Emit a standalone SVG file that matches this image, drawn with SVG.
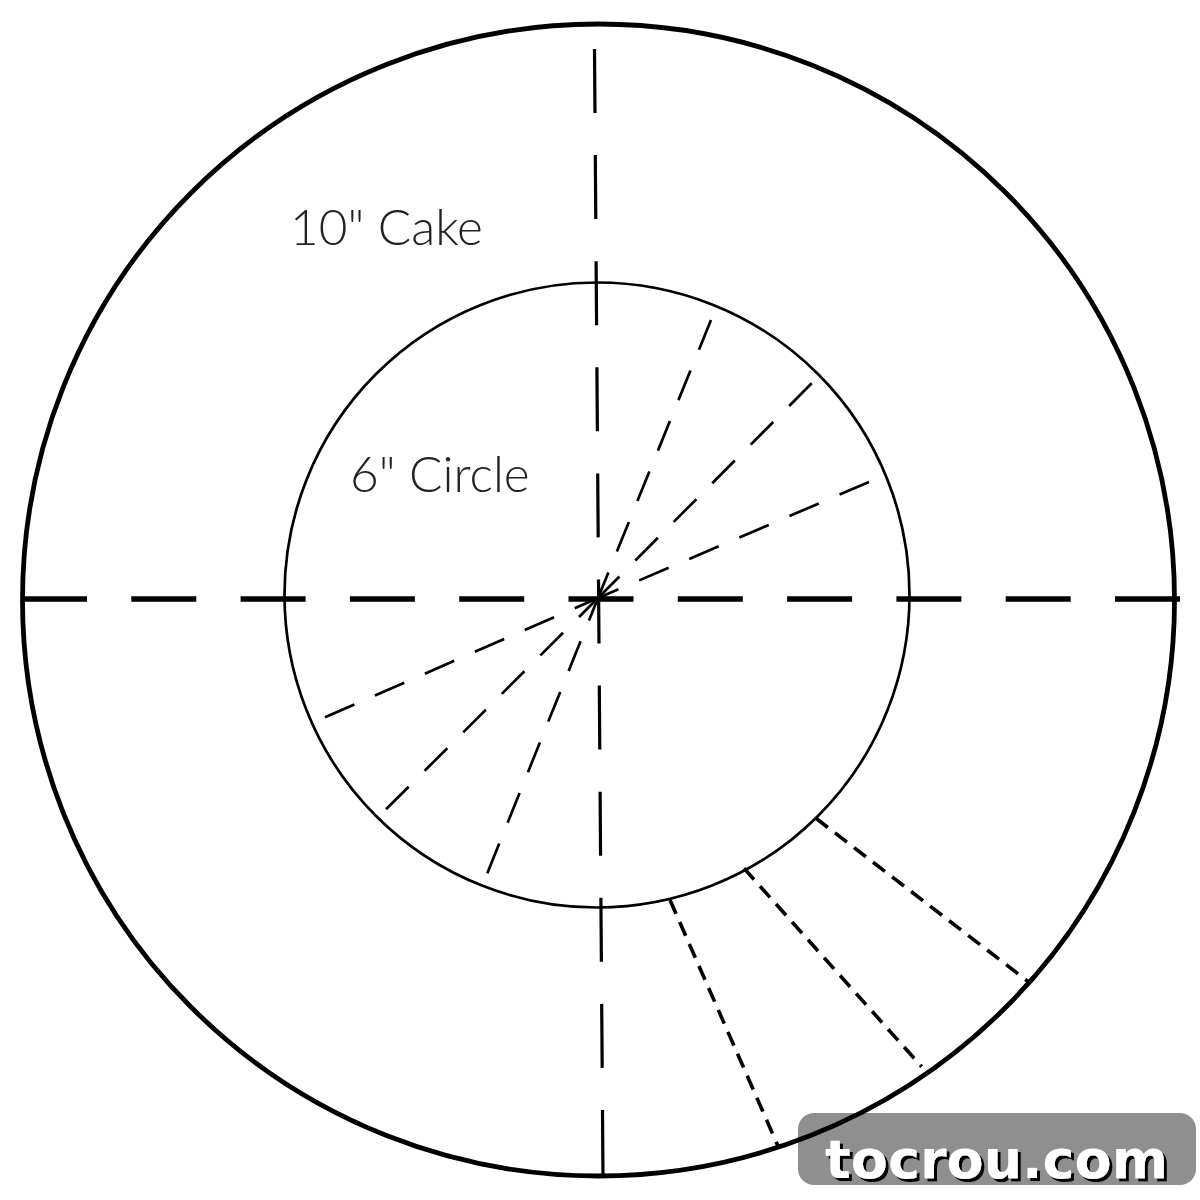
<svg xmlns="http://www.w3.org/2000/svg" width="1200" height="1200" viewBox="0 0 1200 1200">
<defs>
<filter id="shadow" x="-5%" y="-20%" width="110%" height="140%">
<feDropShadow dx="3" dy="3" stdDeviation="0.3" flood-color="#000" flood-opacity="1"/>
</filter>
</defs>
<style>
.ring{fill:none;stroke:#000}
.axis{stroke:#000;fill:none}
.radial{stroke:#000;stroke-width:2.7;stroke-dasharray:32 22.5;fill:none}
.cut{stroke:#000;stroke-width:3.6;stroke-dasharray:15 9;fill:none}
.lbl{font-family:Lato,"Liberation Sans",sans-serif;font-weight:300;font-size:49.5px;fill:#222}
.wm{font-family:"DejaVu Sans",Verdana,sans-serif;font-weight:bold;font-size:54px;fill:#fff}
</style>
<rect width="1200" height="1200" fill="#fff"/>
<g id="outer-circle"><circle class="ring" cx="598.5" cy="600" r="576" stroke-width="4.8"/></g>
<g id="inner-circle"><circle class="ring" cx="597" cy="595" r="312.5" stroke-width="2.7"/></g>
<g id="connectors">
<line class="axis" x1="22" y1="599" x2="1182" y2="599" stroke-width="5.5" stroke-dasharray="65 44.3"/>
<line class="axis" x1="594.5" y1="49" x2="603" y2="1177" stroke-width="3.2" stroke-dasharray="64 42.1"/>
<line class="radial" x1="711" y1="320" x2="598" y2="598"/>
<line class="radial" x1="811.7" y1="383.3" x2="598" y2="598"/>
<line class="radial" x1="869" y1="482" x2="598" y2="598"/>
<line class="radial" x1="325" y1="717.3" x2="598" y2="598"/>
<line class="radial" x1="386" y1="809.3" x2="598" y2="598"/>
<line class="radial" x1="487.3" y1="873.3" x2="598" y2="598"/>
<line class="cut" x1="670" y1="900" x2="778.3" y2="1146.7"/>
<line class="cut" x1="744" y1="868.3" x2="921.7" y2="1066.7"/>
<line class="cut" x1="816" y1="818.3" x2="1028.3" y2="981.7"/>
</g>
<g id="label-cake"><text class="lbl" x="290" y="245">10" Cake</text></g>
<g id="label-circle"><text class="lbl" x="350" y="492">6" Circle</text></g>
<g id="watermark">
<rect x="798" y="1113" width="398" height="72" rx="16" fill="#000" fill-opacity="0.44"/>
<text class="wm" x="825" y="1178" filter="url(#shadow)">tocrou.com</text>
</g>
</svg>
